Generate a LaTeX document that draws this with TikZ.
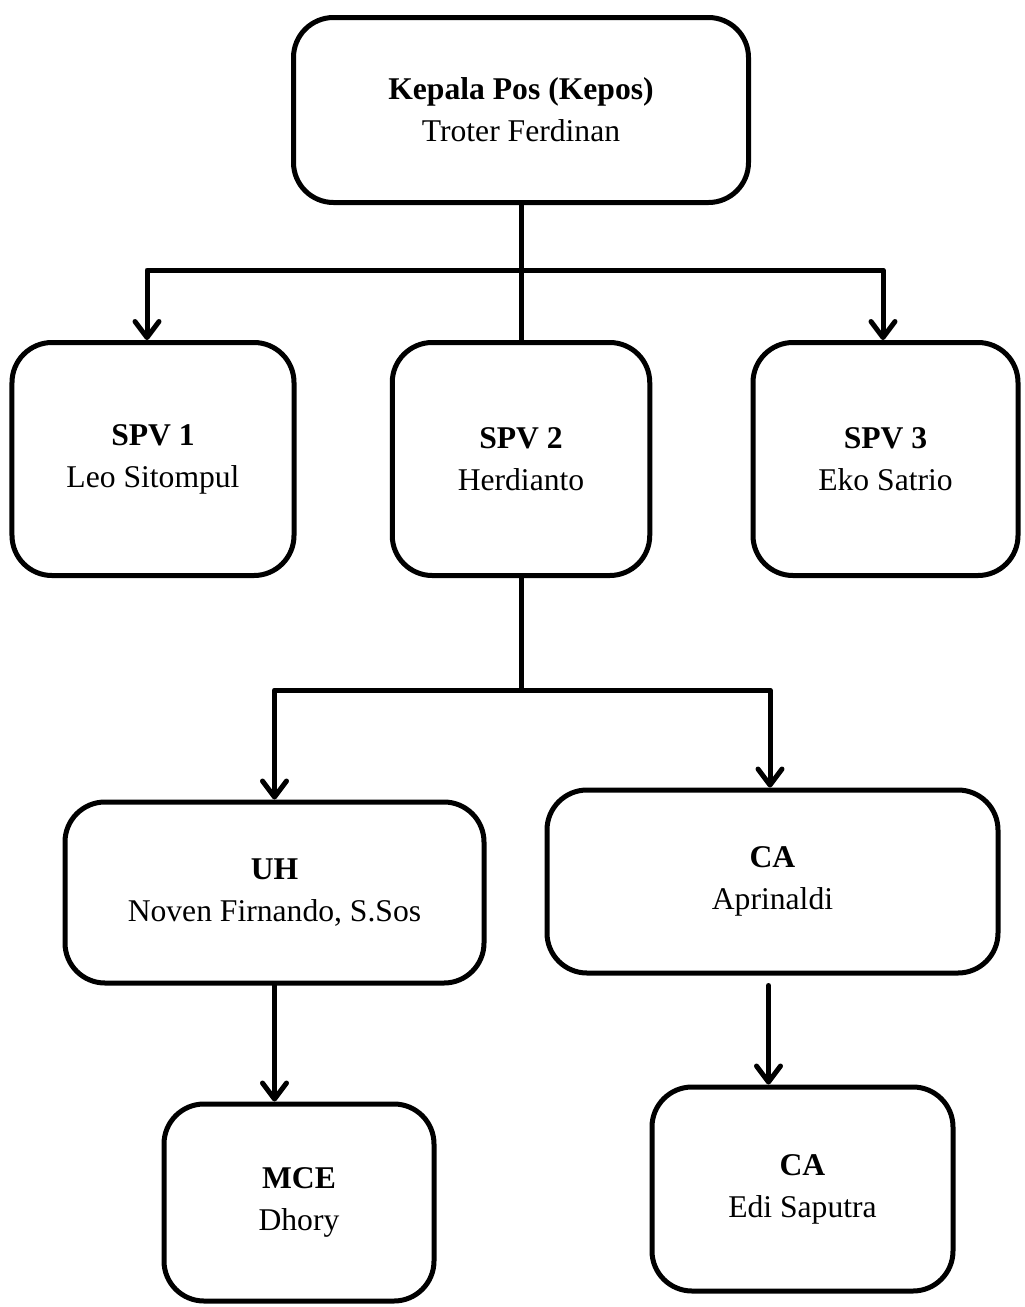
\documentclass[tikz,border=0pt]{standalone}
\usepackage{fontspec}
\setmainfont{Liberation Serif}
\usepackage{tikz}
\usetikzlibrary{positioning,arrows.meta}

\begin{document}
\begin{tikzpicture}[on grid,line width=0.1cm,
    font=\fontsize{18}{24}\selectfont]
    \tikzset{orgbox/.style={draw,rectangle,rounded corners=0.8cm,align=center,inner sep=0pt},
      link/.style={-{Straight Barb[length=0.32cm,width=0.48cm,round]},line cap=round,line join=round}}
    \useasboundingbox (0,0) rectangle (20.48,-26.14);
    % top level
    \node[orgbox,minimum width=9.1cm,minimum height=3.7cm] (kepos) at (10.42,-2.2)
      {\textbf{Kepala Pos (Kepos)}\\Troter Ferdinan};
    % supervisors
    \node[orgbox,minimum width=5.15cm,minimum height=4.66cm] (spv2) [below=6.98cm of kepos] {\textbf{SPV 2}\\Herdianto};
    \node[orgbox,minimum width=5.64cm,minimum height=4.66cm] (spv1) [left=7.36cm of spv2] {\textbf{SPV 1}\\Leo Sitompul};
    \node[orgbox,minimum width=5.3cm,minimum height=4.66cm] (spv3) [right=7.29cm of spv2] {\textbf{SPV 3}\\Eko Satrio};
    % staff
    \node[orgbox,minimum width=8.38cm,minimum height=3.62cm] (uh) [below left=8.67cm and 4.93cm of spv2] {\textbf{UH}\\Noven Firnando, S.Sos};
    \node[orgbox,minimum width=9.02cm,minimum height=3.66cm] (ca) [below right=8.45cm and 5.03cm of spv2] {\textbf{CA}\\Aprinaldi};
    \node[orgbox,minimum width=5.4cm,minimum height=3.94cm] (mce) [below right=6.2cm and 0.49cm of uh] {\textbf{MCE}\\Dhory};
    \node[orgbox,minimum width=6.02cm,minimum height=4.08cm] (ca2) [below right=6.15cm and 0.6cm of ca] {\textbf{CA}\\Edi Saputra};
    % connectors
    \coordinate (fork1) at ([yshift=-1.3cm]kepos.south);
    \coordinate (fork2) at ([yshift=-2.24cm]spv2.south);
    \draw (kepos.south) -- (spv2.north);
    \draw[link] (fork1) -| ([xshift=-0.12cm]spv1.north);
    \draw[link] (fork1) -| ([xshift=-0.05cm]spv3.north);
    \draw (spv2.south) -- (fork2);
    \draw[link] (fork2) -| (uh.north);
    \draw[link] (fork2) -| ([xshift=-0.05cm]ca.north);
    \draw[link] (uh.south) -- (uh.south |- mce.north);
    \draw[link] ([xshift=-0.08cm,yshift=-0.2cm]ca.south) -- ([xshift=-0.08cm]ca.south |- ca2.north);
  \end{tikzpicture}
\end{document}
